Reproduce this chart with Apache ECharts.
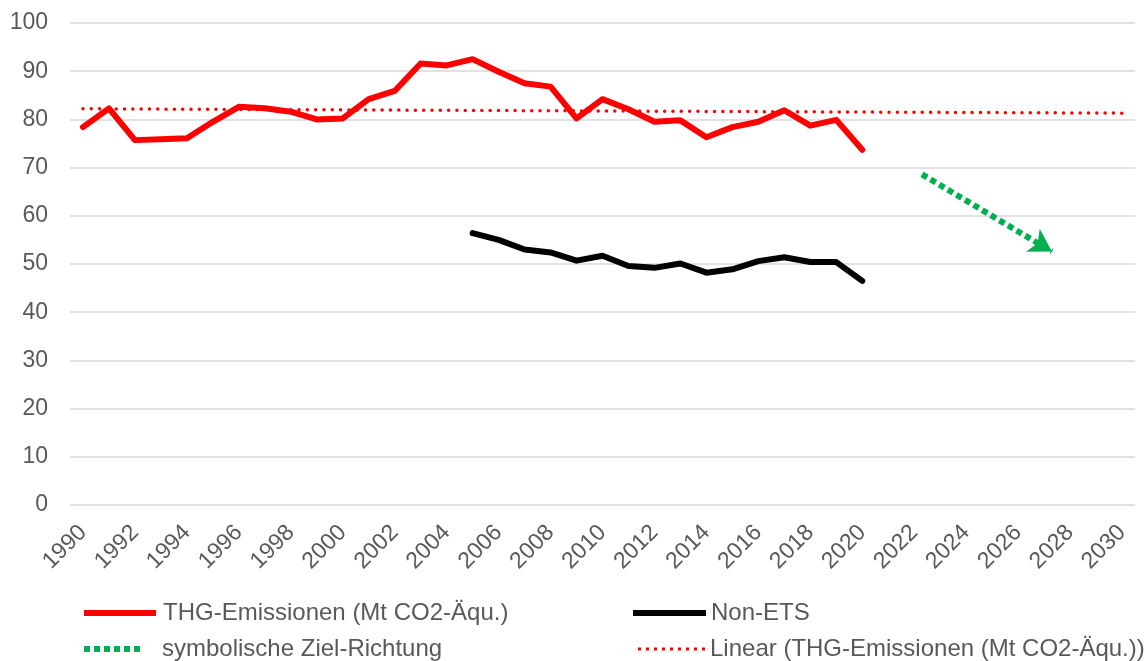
<!DOCTYPE html>
<html>
<head>
<meta charset="utf-8">
<script src="https://cdn.jsdelivr.net/npm/echarts@6/dist/echarts.min.js"></script>
<style>
  html, body { margin: 0; padding: 0; background: #fff; }
  #chart { width: 1146px; height: 661px; }
</style>
</head>
<body>
<div id="chart"></div>
<script>
// categories (years)
var years = ['1990', '1991', '1992', '1993', '1994', '1995', '1996', '1997', '1998', '1999',
  '2000', '2001', '2002', '2003', '2004', '2005', '2006', '2007', '2008', '2009',
  '2010', '2011', '2012', '2013', '2014', '2015', '2016', '2017', '2018', '2019',
  '2020', '2021', '2022', '2023', '2024', '2025', '2026', '2027', '2028', '2029', '2030'];

// THG-Emissionen 1990 - 2020
var thgValues = [78.4, 82.3, 75.7, 75.9, 76.1, 79.5, 82.6, 82.3, 81.6, 80.0,
  80.2, 84.2, 85.9, 91.6, 91.2, 92.5, 89.9, 87.5, 86.8, 80.2,
  84.2, 82.1, 79.5, 79.8, 76.3, 78.4, 79.5, 81.9, 78.7, 79.9, 73.7];

// Non-ETS, starts 2005
var nonEtsValues = [null, null, null, null, null, null, null, null, null, null,
  null, null, null, null, null, 56.4, 55.0, 53.0, 52.4, 50.7,
  51.7, 49.6, 49.2, 50.1, 48.2, 48.9, 50.6, 51.4, 50.4, 50.4, 46.5];

// linear trend (end points)
var trendYears = [1990, 2030];
var trendValues = [82.2, 81.3];

// symbolic target arrow (start, tip)
var arrowYears = [2022.3, 2027.3];
var arrowValues = [68.6, 52.6];

var yTicks = { min: 0, max: 100, step: 10 };

var textColor = '#595959';
var font = 'Liberation Sans, Arial, sans-serif';

// legend icons
var greenDots = 'path://M0,0h6v6h-6zM10,0h6v6h-6zM20,0h6v6h-6zM30,0h6v6h-6zM40,0h6v6h-6zM50,0h6v6h-6z';
var redDots = 'path://M0,0h3v3h-3zM8,0h3v3h-3zM16,0h3v3h-3zM24,0h3v3h-3zM32,0h3v3h-3zM40,0h3v3h-3zM48,0h3v3h-3zM56,0h3v3h-3zM64,0h3v3h-3z';

function legendBox(name, left, top, icon, w, h, pad) {
  return {
    left: left,
    top: top,
    itemWidth: w,
    itemHeight: h,
    padding: 0,
    selectedMode: false,
    textStyle: { color: textColor, fontSize: 24, fontFamily: font, padding: [0, 0, 0, pad] },
    data: [{ name: name, icon: icon }]
  };
}

var chart = echarts.init(document.getElementById('chart'));

var option = {
  animation: false,
  grid: { left: 70, right: 11, top: 23, bottom: 156 },
  legend: [
    legendBox('THG-Emissionen (Mt CO2-Äqu.)', 84, 601, 'rect', 72, 6, 2),
    legendBox('Non-ETS', 633, 601, 'rect', 73, 6, 0),
    legendBox('symbolische Ziel-Richtung', 84, 637, greenDots, 56, 6, 17),
    legendBox('Linear (THG-Emissionen (Mt CO2-Äqu.))', 638, 637, redDots, 67, 3, 0)
  ],
  xAxis: [
    {
      type: 'category',
      data: years,
      boundaryGap: true,
      axisLine: { show: false },
      axisTick: { show: false },
      axisLabel: {
        interval: 1,
        rotate: 45,
        margin: 24,
        color: textColor,
        fontSize: 23,
        fontFamily: font
      },
      splitLine: { show: false }
    },
    {
      // hidden numeric axis for the trend line and arrow
      type: 'value',
      min: 1989.5,
      max: 2030.5,
      show: false,
      splitLine: { show: false }
    }
  ],
  yAxis: {
    type: 'value',
    min: yTicks.min,
    max: yTicks.max,
    interval: yTicks.step,
    axisLine: { show: false },
    axisTick: { show: false },
    axisLabel: { color: textColor, fontSize: 23, fontFamily: font, margin: 22 },
    splitLine: { lineStyle: { color: '#d9d9d9', width: 1.5 } }
  },
  series: [
    {
      name: 'THG-Emissionen (Mt CO2-Äqu.)',
      type: 'line',
      data: thgValues,
      showSymbol: false,
      symbol: 'none',
      lineStyle: { color: '#ff0000', width: 6, cap: 'round', join: 'round' },
      itemStyle: { color: '#ff0000' },
      z: 4
    },
    {
      name: 'Non-ETS',
      type: 'line',
      data: nonEtsValues,
      showSymbol: false,
      symbol: 'none',
      lineStyle: { color: '#000000', width: 6, cap: 'round', join: 'round' },
      itemStyle: { color: '#000000' },
      z: 4
    },
    {
      name: 'symbolische Ziel-Richtung',
      type: 'line',
      xAxisIndex: 1,
      data: [],
      showSymbol: false,
      symbol: 'none',
      lineStyle: { color: '#00b050', width: 6, type: [6, 4] },
      itemStyle: { color: '#00b050' },
      markLine: {
        silent: true,
        symbol: ['none', 'arrow'],
        symbolSize: [20, 22],
        label: { show: false },
        lineStyle: { color: '#00b050', width: 6, type: [6, 4] },
        data: [[
          { coord: [arrowYears[0], arrowValues[0]] },
          { coord: [arrowYears[1], arrowValues[1]] }
        ]]
      }
    },
    {
      name: 'Linear (THG-Emissionen (Mt CO2-Äqu.))',
      type: 'line',
      xAxisIndex: 1,
      data: trendYears.map(function (y, i) { return [y, trendValues[i]]; }),
      showSymbol: false,
      symbol: 'none',
      lineStyle: { color: '#ff0000', width: 3.5, type: [0.01, 8.3], cap: 'round' },
      itemStyle: { color: '#ff0000' },
      z: 3
    }
  ]
};

chart.setOption(option);
</script>
</body>
</html>
